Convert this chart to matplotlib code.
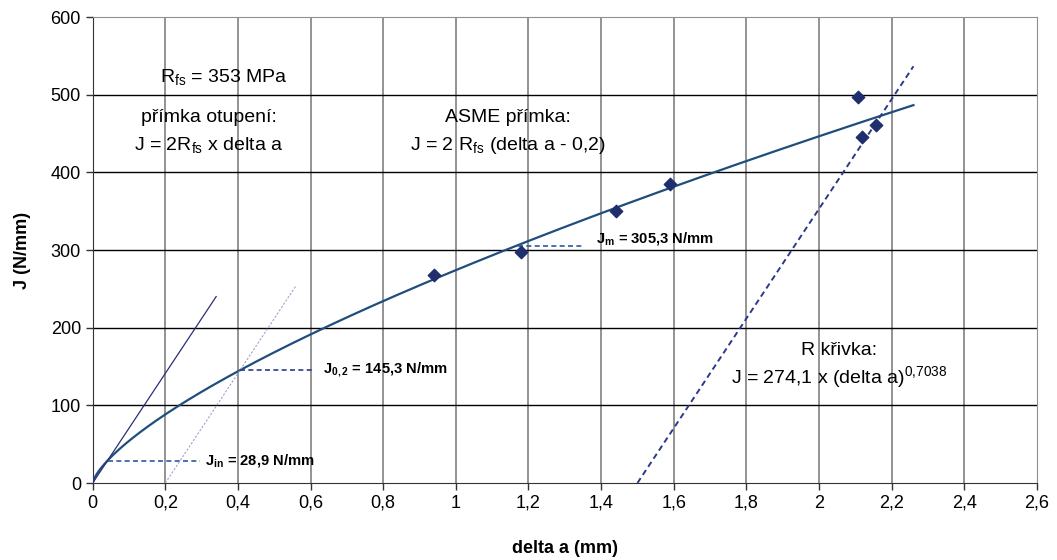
import numpy as np
import matplotlib
matplotlib.use("Agg")
import matplotlib.pyplot as plt

plt.rcParams['font.family'] = ['Liberation Sans', 'DejaVu Sans']
plt.rcParams['mathtext.fontset'] = 'custom'
plt.rcParams['mathtext.rm'] = 'Liberation Sans'
plt.rcParams['mathtext.it'] = 'Liberation Sans:italic'
plt.rcParams['mathtext.bf'] = 'Liberation Sans:bold'

# data
delta_a = [0.94, 1.18, 1.44, 1.59, 2.107, 2.118, 2.158]
J_meas = [268, 297, 350, 385, 497, 445, 461]
R_fs = 353
C1, C2 = 274.1, 0.7038
curve_end = 2.26
blunt_end = 0.34
asme_range = [0.2, 0.56]
excl_range = [1.5, 2.26]
J_in, a_in = 28.9, 0.041
J_02, a_02 = 145.3, 0.405
J_m = 305.3
x_ticks = [0, 0.2, 0.4, 0.6, 0.8, 1, 1.2, 1.4, 1.6, 1.8, 2, 2.2, 2.4, 2.6]
x_labels = ['0', '0,2', '0,4', '0,6', '0,8', '1', '1,2', '1,4', '1,6', '1,8', '2', '2,2', '2,4', '2,6']
y_ticks = [0, 100, 200, 300, 400, 500, 600]

fig = plt.figure(figsize=(10.57, 5.6), dpi=100)
ax = fig.add_axes([0.0877, 0.1375, 0.981 - 0.0877, 0.9696 - 0.1375])

ax.set_xlim(0, 2.6)
ax.set_ylim(0, 600)
ax.set_xticks(x_ticks)
ax.set_xticklabels(x_labels)
ax.set_yticks(y_ticks)
ax.tick_params(direction='out', length=5, width=1, labelsize=13, color='#333333')

for x in x_ticks[1:-1]:
    ax.axvline(x, color='#808080', lw=1.2, zorder=0)
for y in y_ticks[1:-1]:
    ax.axhline(y, color='#000000', lw=1.0, zorder=0)
for s in ['top', 'right']:
    ax.spines[s].set_color('#909090')
for s in ['left', 'bottom']:
    ax.spines[s].set_color('#333333')

# R curve
a = np.linspace(0, curve_end, 400)
ax.plot(a, C1 * a ** C2, color='#1f4e7d', lw=1.6, zorder=3)

# blunting line
a_b = np.array([0, blunt_end])
ax.plot(a_b, 2 * R_fs * a_b, color='#2a2f78', lw=0.9, zorder=3)

# ASME offset line
a_s = np.array(asme_range)
ax.plot(a_s, 2 * R_fs * (a_s - 0.2), color='#a0a0d0', lw=0.8, ls=(0, (2, 1.5)), zorder=3)

# 1.5 mm exclusion line
a_e = np.array(excl_range)
ax.plot(a_e, 2 * R_fs * (a_e - 1.5), color='#2a3a8a', lw=1.4, ls=(0, (3, 2)), zorder=3)

# measured points
ax.scatter(delta_a, J_meas, marker='D', s=40, color='#1f2f6e', zorder=4)

# annotations
ax.plot([a_in, 0.296], [J_in, J_in], color='#2a5aa0', lw=1.2, ls=(0, (3, 2)), zorder=3)
ax.text(0.31, J_in, r'$\mathbf{J_{in}}$ = 28,9 N/mm', fontsize=10.6, fontweight='bold', va='center', ha='left')
ax.plot([a_02, 0.605], [J_02, J_02], color='#2a3a8a', lw=1.2, ls=(0, (3, 2)), zorder=3)
ax.text(0.635, J_02, r'$\mathbf{J_{0,2}}$ = 145,3 N/mm', fontsize=10.6, fontweight='bold', va='center', ha='left')
ax.plot([1.17, 1.35], [J_m, J_m], color='#2a5aa0', lw=1.2, ls=(0, (3, 2)), zorder=3)
ax.text(1.385, J_m + 10, r'$\mathbf{J_{m}}$ = 305,3 N/mm', fontsize=10.6, fontweight='bold', va='center', ha='left')

ax.text(0.36, 523, r'R$_{\mathrm{fs}}$ = 353 MPa', fontsize=14, ha='center', va='center')
ax.text(0.32, 470, 'přímka otupení:', fontsize=14, ha='center', va='center')
ax.text(0.32, 435, r'J = 2R$_{\mathrm{fs}}$ x delta a', fontsize=14, ha='center', va='center')
ax.text(1.143, 470, 'ASME přímka:', fontsize=14, ha='center', va='center')
ax.text(1.143, 435, r'J = 2 R$_{\mathrm{fs}}$ (delta a - 0,2)', fontsize=14, ha='center', va='center')
ax.text(2.055, 170, 'R křivka:', fontsize=14, ha='center', va='center')
ax.text(2.055, 137, r'J = 274,1 x (delta a)$^{\mathrm{0{,}7038}}$', fontsize=14, ha='center', va='center')

ax.set_xlabel('delta a (mm)', fontsize=13, fontweight='bold', labelpad=20)
ax.set_ylabel('J (N/mm)', fontsize=13, fontweight='bold', labelpad=14)

fig.savefig('out.png', dpi=100)
